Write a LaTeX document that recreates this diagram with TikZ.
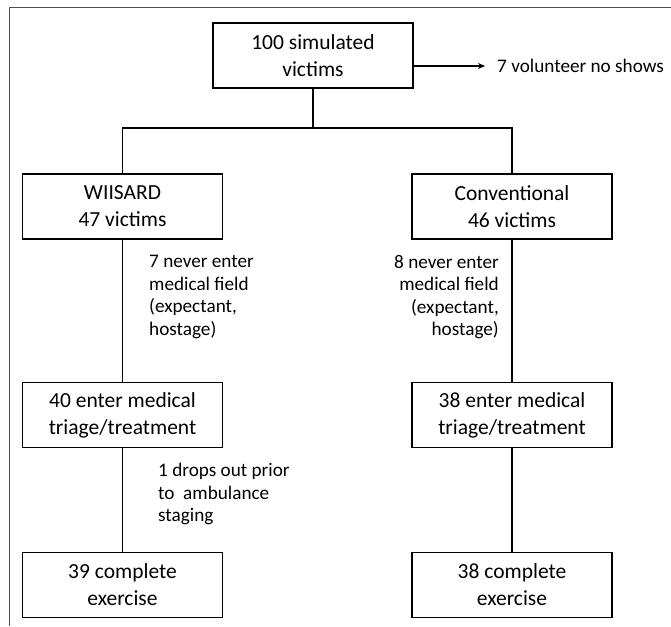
\documentclass[tikz,border=0pt]{standalone}
\usepackage{fontspec}
\setmainfont{Carlito}
\usetikzlibrary{arrows.meta,positioning,calc}
\tikzset{
  flowbox/.style={draw,line width=1.3pt,minimum width=200pt,minimum height=65pt,align=center,
    font=\fontsize{21.5}{27}\selectfont,inner sep=0pt},
  sidenote/.style={inner sep=0pt,font=\fontsize{19.2}{22.5}\selectfont},
  link/.style={line width=1.1pt}
}
\begin{document}
\begin{tikzpicture}[x=1pt,y=-1pt]
\useasboundingbox (0,0) rectangle (671,626);
\draw[line width=0.9pt,black!70] (9,626) -- (9,7) -- (671,7);
% top of the chart
\node[flowbox] (top) at (313,55.5) {100 simulated\\victims};
\node[sidenote,anchor=west] (noshow) at (497,66) {7 volunteer no shows};
\draw[link,line width=1.4pt,-{Stealth[length=7pt,width=6pt]}] (top.east |- noshow.west) -- ($(noshow.west)+(-12,0)$);
\coordinate (split) at (313,128);
% two arms
\node[flowbox] (wiisard) at (122.5,206.5) {WIISARD\\47 victims};
\node[flowbox] (conv) at (512,206.5) {Conventional\\46 victims};
\node[flowbox] (wmed) at (122.5,415) {40 enter medical\\triage/treatment};
\node[flowbox] (cmed) at (512,415) {38 enter medical\\triage/treatment};
\node[flowbox] (wdone) at (122.5,585) {39 complete\\exercise};
\node[flowbox] (cdone) at (512,585) {38 complete\\exercise};
\draw[link] (top.south) -- (split);
\draw[link] (wiisard.north) |- (split) -| (conv.north);
\foreach \a/\b in {wiisard/wmed,wmed/wdone,conv/cmed,cmed/cdone}{\draw[link] (\a) -- (\b);}
% losses along the way
\node[sidenote,align=left,anchor=north west] (wlost) at (149,255) {7 never enter\\medical field\\(expectant,\\hostage)};
\node[sidenote,align=right,anchor=north east] (clost) at (499,255) {8 never enter\\medical field\\(expectant,\\hostage)};
\node[sidenote,align=left,anchor=north west] (wdrop) at (158,463) {1 drops out prior\\to\ \ ambulance\\staging};
\end{tikzpicture}
\end{document}
